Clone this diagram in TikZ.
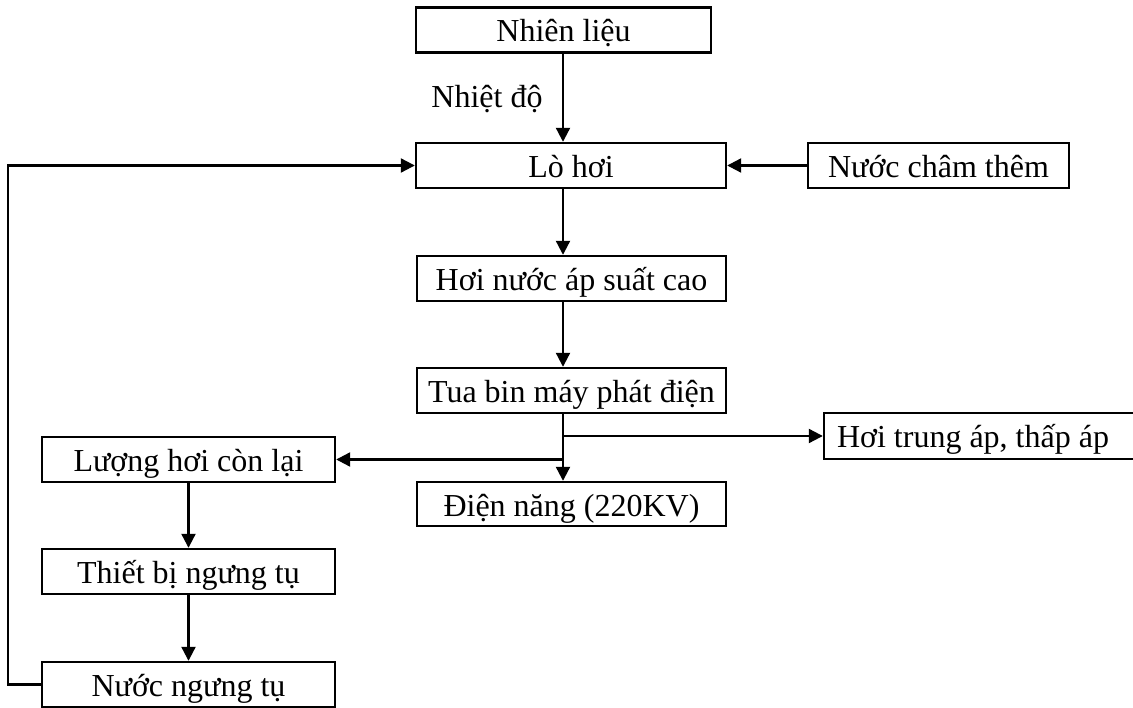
\documentclass[tikz,border=0pt]{standalone}
\usepackage{fontspec}
\setmainfont{Liberation Serif}
\usetikzlibrary{arrows.meta}
\begin{document}
\begin{tikzpicture}[x=1pt,y=-1pt,
  box/.style={draw, line width=2.4pt, rectangle, inner sep=0pt, minimum height=45pt,
    text height=27pt, text depth=3pt, font=\fontsize{32}{36}\selectfont},
  arr/.style={line width=2.2pt, -{Triangle[length=14pt,width=14pt]}},
  ln/.style={line width=2.2pt}]
\useasboundingbox (0,0) rectangle (1133,708);
\begin{scope}
\clip (0,0) rectangle (1133,708);
\node[box, minimum width=295pt] (nl) at (563.5,30) {Nhiên liệu};
\node[box, minimum width=310pt] (lh) at (571,165.5) {Lò hơi};
\node[box, minimum width=261pt] (nct) at (938.5,165.5) {Nước châm thêm};
\node[box, minimum width=309pt] (hn) at (571.5,278.5) {Hơi nước áp suất cao};
\node[box, minimum width=309pt] (tb) at (571.5,390.5) {Tua bin máy phát điện};
\node[box, minimum width=316pt, minimum height=46pt] (hta) at (982,436) {\hspace*{-18pt}Hơi trung áp, thấp áp};
\node[box, minimum width=293pt] (lhc) at (188.5,459.5) {Lượng hơi còn lại};
\node[box, minimum width=309pt, minimum height=44pt] (dn) at (571.5,504) {Điện năng (220KV)};
\node[box, minimum width=293pt] (tbn) at (188.5,571.5) {Thiết bị ngưng tụ};
\node[box, minimum width=293pt] (nnt) at (188.5,684.5) {Nước ngưng tụ};
\node[anchor=base, inner sep=0pt, font=\fontsize{32}{36}\selectfont] (nd) at (487,108) {Nhiệt độ};
\coordinate (cx) at (563,0);
\coordinate (br) at (563,436);
\coordinate (bl) at (563,459.5);
\coordinate (lp) at (8,0);
\draw[arr] (nl.south -| cx) -- (lh.north -| cx);
\draw[arr] (nct.west) -- (lh.east);
\draw[arr] (lh.south -| cx) -- (hn.north -| cx);
\draw[arr] (hn.south -| cx) -- (tb.north -| cx);
\draw[arr] (tb.south -| cx) -- (dn.north -| cx);
\draw[arr] (br) -- (hta.west);
\draw[arr] (bl) -- (lhc.east);
\draw[arr] (lhc.south) -- (tbn.north);
\draw[arr] (tbn.south) -- (nnt.north);
\draw[arr] (nnt.west) -- (nnt.west -| lp) -- (lh.west -| lp) -- (lh.west);
\end{scope}
\end{tikzpicture}
\end{document}
